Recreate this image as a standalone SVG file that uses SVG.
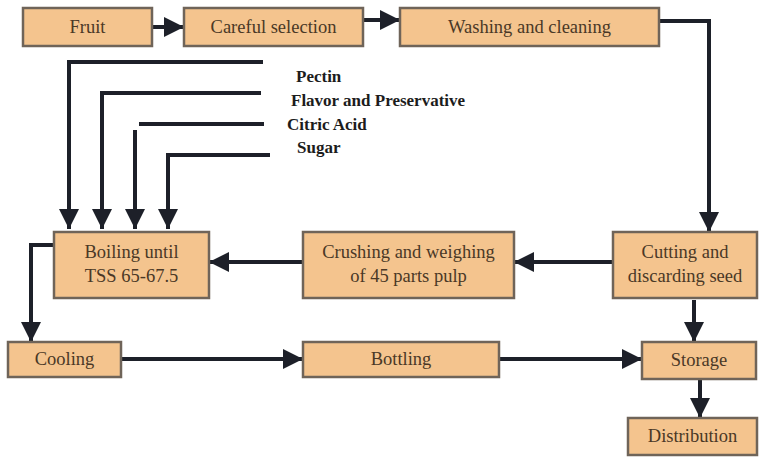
<svg xmlns="http://www.w3.org/2000/svg" width="762" height="457" viewBox="0 0 762 457">
<defs>
<style>
.box{fill:#f4c48e;stroke:#6f6459;stroke-width:2.5}
.ln{fill:none;stroke:#1d2029;stroke-width:4}
</style>
<marker id="ah" viewBox="0 0 10 10" refX="10" refY="5" markerWidth="5" markerHeight="5" orient="auto" markerUnits="strokeWidth">
<path d="M0,0 L10,5 L0,10 Z" fill="#1d2029"/>
</marker>
</defs>
<rect width="762" height="457" fill="#ffffff"/>
<g id="connectors">
<path class="ln" marker-end="url(#ah)" d="M152,27 H184"/>
<path class="ln" marker-end="url(#ah)" d="M363,20 H400"/>
<path class="ln" marker-end="url(#ah)" d="M659,21 H709 V232"/>
<path class="ln" marker-end="url(#ah)" d="M613,262 H514"/>
<path class="ln" marker-end="url(#ah)" d="M303,262 H209"/>
<path class="ln" marker-end="url(#ah)" d="M54,245 H31 V342"/>
<path class="ln" marker-end="url(#ah)" d="M121,359 H303"/>
<path class="ln" marker-end="url(#ah)" d="M499,359 H642"/>
<path class="ln" marker-end="url(#ah)" d="M694,300 V342"/>
<path class="ln" marker-end="url(#ah)" d="M700,379 V418"/>
<path class="ln" marker-end="url(#ah)" d="M263,62 H69 V229"/>
<path class="ln" marker-end="url(#ah)" d="M261,93 H102 V229"/>
<path class="ln" d="M264,124 H139"/>
<path class="ln" marker-end="url(#ah)" d="M135,130 V229"/>
<path class="ln" marker-end="url(#ah)" d="M270,155 H168 V229"/>
</g>
<g id="ingredients">
<text x="296" y="82" font-family="Liberation Serif" font-size="17" font-weight="bold" fill="#1c1c1c">Pectin</text>
<text x="291" y="106" font-family="Liberation Serif" font-size="17" font-weight="bold" fill="#1c1c1c">Flavor and Preservative</text>
<text x="287" y="130" font-family="Liberation Serif" font-size="17" font-weight="bold" fill="#1c1c1c">Citric Acid</text>
<text x="297" y="153" font-family="Liberation Serif" font-size="17" font-weight="bold" fill="#1c1c1c">Sugar</text>
</g>
<g id="fruit"><rect class="box" x="23" y="8" width="129" height="38"/><text x="87.5" y="33" font-family="Liberation Serif" font-size="18.5" fill="#4a3826" text-anchor="middle">Fruit</text></g>
<g id="careful"><rect class="box" x="184" y="8" width="179" height="38"/><text x="273.5" y="33" font-family="Liberation Serif" font-size="18.5" fill="#4a3826" text-anchor="middle">Careful selection</text></g>
<g id="washing"><rect class="box" x="400" y="8" width="259" height="38"/><text x="529.5" y="33" font-family="Liberation Serif" font-size="18.5" fill="#4a3826" text-anchor="middle">Washing and cleaning</text></g>
<g id="cutting"><rect class="box" x="613" y="232" width="144" height="66"/><text x="685" y="258" font-family="Liberation Serif" font-size="18.5" fill="#4a3826" text-anchor="middle">Cutting and</text><text x="685" y="282" font-family="Liberation Serif" font-size="18.5" fill="#4a3826" text-anchor="middle">discarding seed</text></g>
<g id="crushing"><rect class="box" x="303" y="232" width="211" height="66"/><text x="408.5" y="258" font-family="Liberation Serif" font-size="18.5" fill="#4a3826" text-anchor="middle">Crushing and weighing</text><text x="408.5" y="282" font-family="Liberation Serif" font-size="18.5" fill="#4a3826" text-anchor="middle">of 45 parts pulp</text></g>
<g id="boiling"><rect class="box" x="54" y="232" width="155" height="66"/><text x="131.5" y="258" font-family="Liberation Serif" font-size="18.5" fill="#4a3826" text-anchor="middle">Boiling until</text><text x="131.5" y="282" font-family="Liberation Serif" font-size="18.5" fill="#4a3826" text-anchor="middle">TSS 65-67.5</text></g>
<g id="cooling"><rect class="box" x="8" y="342" width="113" height="35"/><text x="64.5" y="365" font-family="Liberation Serif" font-size="18.5" fill="#4a3826" text-anchor="middle">Cooling</text></g>
<g id="bottling"><rect class="box" x="303" y="342" width="196" height="35"/><text x="401" y="365" font-family="Liberation Serif" font-size="18.5" fill="#4a3826" text-anchor="middle">Bottling</text></g>
<g id="storage"><rect class="box" x="642" y="342" width="114" height="37"/><text x="699" y="366" font-family="Liberation Serif" font-size="18.5" fill="#4a3826" text-anchor="middle">Storage</text></g>
<g id="distribution"><rect class="box" x="628" y="418" width="129" height="37"/><text x="692.5" y="442" font-family="Liberation Serif" font-size="18.5" fill="#4a3826" text-anchor="middle">Distribution</text></g>
</svg>
